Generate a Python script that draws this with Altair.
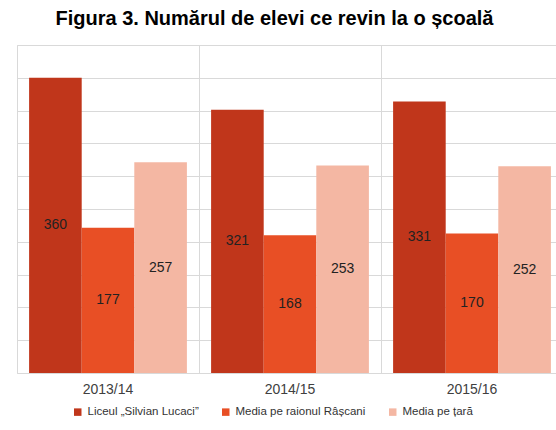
import altair as alt
import pandas as pd

years = ["2013/14", "2014/15", "2015/16"]
series = ["Liceul „Silvian Lucaci”", "Media pe raionul Râșcani", "Media pe țară"]
liceu = [360, 321, 331]
raion = [177, 168, 170]
tara = [257, 253, 252]
colors = ["#C0361B", "#E84F25", "#F4B7A3"]
y_ticks = [0, 40, 80, 120, 160, 200, 240, 280, 320, 360, 400]

rows = []
for i, yr in enumerate(years):
    for s, vals in zip(series, [liceu, raion, tara]):
        rows.append({"an": yr, "serie": s, "val": vals[i]})
df = pd.DataFrame(rows)

FONT = "Liberation Sans"

base = alt.Chart(df).encode(
    x=alt.X(
        "an:N",
        sort=years,
        scale=alt.Scale(paddingInner=0, paddingOuter=0, range=[0, 546]),
        axis=alt.Axis(
            title=None, labelAngle=0, ticks=False, domain=False, grid=True,
            bandPosition=0, gridColor="#d9d9d9", gridWidth=1,
            labelFont=FONT, labelFontSize=14, labelColor="#404040", labelPadding=9,
        ),
    ),
    xOffset=alt.XOffset("serie:N", sort=series,
                        scale=alt.Scale(paddingInner=0, paddingOuter=0.23)),
)

bars = base.mark_bar().encode(
    y=alt.Y(
        "val:Q",
        scale=alt.Scale(domain=[0, 400], nice=False),
        axis=alt.Axis(title=None, labels=False, ticks=False, domain=False,
                      values=y_ticks, grid=True, gridColor="#d9d9d9", gridWidth=1),
    ),
    color=alt.Color(
        "serie:N",
        sort=series,
        scale=alt.Scale(domain=series, range=colors),
        legend=alt.Legend(
            title=None, orient="none", legendX=55, legendY=361,
            direction="horizontal", symbolType="square", symbolSize=56,
            symbolStrokeWidth=0, labelFont=FONT, labelFontSize=11.5,
            labelColor="#333333", columnPadding=21, labelOffset=4, padding=0,
        ),
    ),
)

labels = base.transform_calculate(mid="datum.val / 2").mark_text(
    font=FONT, fontSize=14, color="#222222", baseline="middle", align="center"
).encode(
    y=alt.Y("mid:Q", title=None, axis=None),
    text=alt.Text("val:Q"),
)

chart = alt.layer(bars, labels).resolve_axis(y="independent").properties(
    width=539,
    height=328,
    title=alt.TitleParams(
        "Figura 3. Numărul de elevi ce revin la o școală",
        font=FONT, fontSize=20, fontWeight="bold", color="#000000",
        anchor="middle", dx=-12, offset=16,
    ),
    autosize=alt.AutoSizeParams(type="none"),
    padding={"left": 17, "top": 45, "right": 0, "bottom": 57},
).configure_view(stroke=None).configure(background="white")

chart.save("out.html", embed_options={"renderer": "svg", "actions": False})
